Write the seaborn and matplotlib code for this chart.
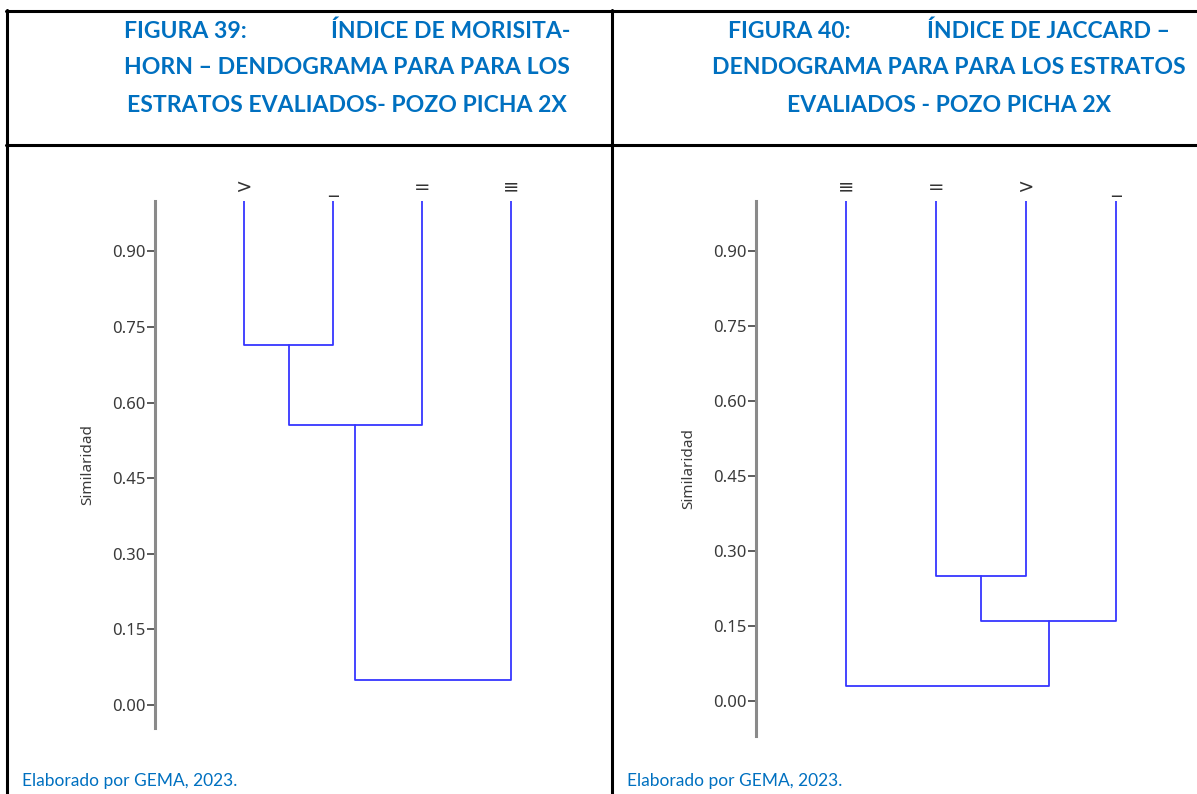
import pandas as pd
import seaborn as sns
import matplotlib.pyplot as plt
from matplotlib.lines import Line2D

# dendrogram data: leaf order and merges (cluster a, cluster b, similarity)
leaves_morisita = [">", "_", "=", "≡"]
merges_morisita = [(0, 1, 0.714), (4, 2, 0.556), (5, 3, 0.05)]

leaves_jaccard = ["≡", "=", ">", "_"]
merges_jaccard = [(1, 2, 0.25), (4, 3, 0.16), (0, 5, 0.03)]

yticks = [0.00, 0.15, 0.30, 0.45, 0.60, 0.75, 0.90]

W, H = 1197, 794
BLUE_TXT = "#0070C0"
LINE_BLUE = "#3636ff"


def dendro_segments(leaves, merges):
    """turn merge list into a long dataframe of U-shaped segments"""
    xs = {i: float(i) for i in range(len(leaves))}
    hs = {i: 1.0 for i in range(len(leaves))}
    rows = []
    nxt = len(leaves)
    for k, (a, b, h) in enumerate(merges):
        pts = [(xs[a], hs[a]), (xs[a], h), (xs[b], h), (xs[b], hs[b])]
        for order, (x, y) in enumerate(pts):
            rows.append({"seg": k, "order": order, "x": x, "y": y})
        xs[nxt] = (xs[a] + xs[b]) / 2
        hs[nxt] = h
        nxt += 1
    return pd.DataFrame(rows)


def px_axes(fig, x0, y0, w, h):
    return fig.add_axes([x0 / W, (H - y0 - h) / H, w / W, h / H])


def draw_dendro(ax, leaves, merges, ylim):
    df = dendro_segments(leaves, merges)
    sns.lineplot(data=df, x="x", y="y", units="seg", estimator=None,
                 sort=False, color=LINE_BLUE, linewidth=1.3, ax=ax,
                 legend=False)
    ax.set_xlim(-1, 3.5)
    ax.set_ylim(*ylim)
    for s in ["top", "right", "bottom"]:
        ax.spines[s].set_visible(False)
    ax.spines["left"].set_color("#8a8a8a")
    ax.spines["left"].set_linewidth(2.2)
    ax.set_yticks(yticks)
    ax.set_yticklabels([f"{v:.2f}" for v in yticks], fontsize=12,
                       color="#3a3a3a", family="Noto Sans")
    ax.tick_params(axis="y", left=True, length=6, width=1.1,
                   color="#333333", pad=1)
    ax.set_xticks(range(len(leaves)))
    ax.set_xticklabels(leaves, fontsize=14, color="#333333",
                       family="DejaVu Sans")
    ax.xaxis.tick_top()
    ax.tick_params(axis="x", length=0, pad=3)
    ax.set_xlabel("")
    ax.set_ylabel("Similaridad", fontsize=11, color="#3a3a3a",
                  family="Noto Sans", labelpad=12)
    ax.patch.set_alpha(0)


sns.set_theme(style="white")
plt.rcParams["font.family"] = ["Lato", "DejaVu Sans"]

fig = plt.figure(figsize=(W / 100, H / 100), dpi=100)

ax1 = px_axes(fig, 155, 201, 400.5, 527)
draw_dendro(ax1, leaves_morisita, merges_morisita, (-0.0456, 1.0))

ax2 = px_axes(fig, 756, 201, 405, 535)
draw_dendro(ax2, leaves_jaccard, merges_jaccard, (-0.07, 1.0))


# table borders
def hline(y, x0, x1):
    fig.add_artist(Line2D([x0 / W, x1 / W], [1 - y / H, 1 - y / H],
                          color="black", lw=2.2, transform=fig.transFigure))


def vline(x, y0, y1):
    fig.add_artist(Line2D([x / W, x / W], [1 - y0 / H, 1 - y1 / H],
                          color="black", lw=2.2, transform=fig.transFigure))


hline(11, 6, W)
hline(145, 6, W)
vline(7, 10, H)
vline(612, 10, H)

# header titles
tkw = dict(color=BLUE_TXT, fontsize=16.6, fontweight="bold",
           transform=fig.transFigure, va="center")


def ftext(x, y, s, ha, **kw):
    fig.text(x / W, 1 - y / H, s, ha=ha, **kw)


ftext(124, 31, "FIGURA 39:", "left", **tkw)
ftext(570, 31, "ÍNDICE DE MORISITA-", "right", **tkw)
ftext(347, 68, "HORN – DENDOGRAMA PARA PARA LOS", "center", **tkw)
ftext(347, 105, "ESTRATOS EVALIADOS- POZO PICHA 2X", "center", **tkw)

ftext(728, 31, "FIGURA 40:", "left", **tkw)
ftext(1170, 31, "ÍNDICE DE JACCARD –", "right", **tkw)
ftext(949, 68, "DENDOGRAMA PARA PARA LOS ESTRATOS", "center", **tkw)
ftext(949, 105, "EVALIADOS - POZO PICHA 2X", "center", **tkw)

fkw = dict(color=BLUE_TXT, fontsize=12.5, transform=fig.transFigure,
           va="center")
ftext(22, 781, "Elaborado por GEMA, 2023.", "left", **fkw)
ftext(627, 781, "Elaborado por GEMA, 2023.", "left", **fkw)

fig.savefig("out.png", dpi=100)
plt.close(fig)
